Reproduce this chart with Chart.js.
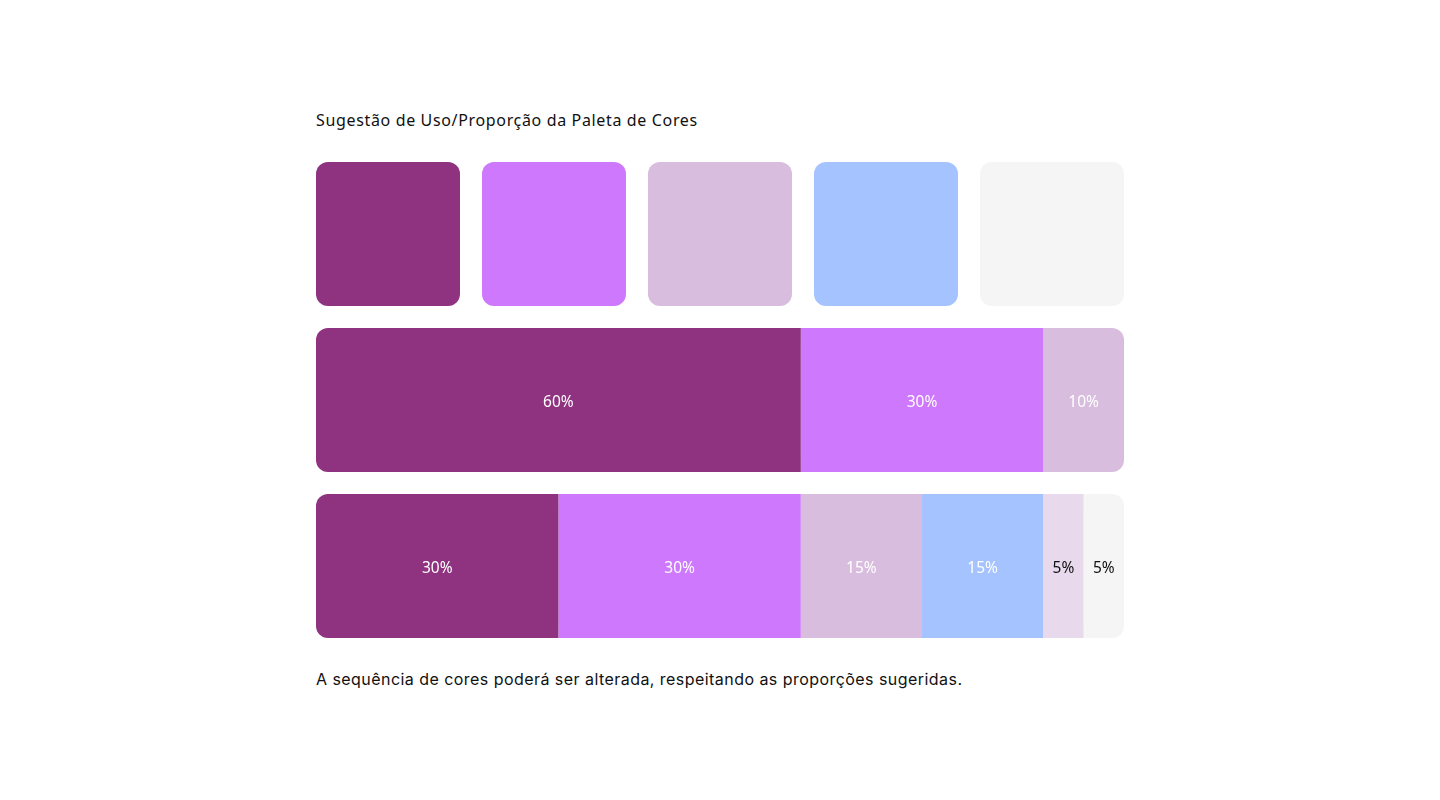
<!DOCTYPE html>
<html>
<head>
<meta charset="utf-8">
<script src="https://cdn.jsdelivr.net/npm/chart.js@4/dist/chart.umd.min.js"></script>
<style>
  html, body { margin: 0; padding: 0; background: #ffffff; }
  body { width: 1440px; height: 800px; position: relative; overflow: hidden; }
  .txt { position: absolute; left: 316px; color: #111; white-space: nowrap; }
  #title { top: 109px; font-family: "Noto Sans", sans-serif; font-size: 16px; letter-spacing: 0.65px; }
  #note { top: 669px; font-family: "Inter", sans-serif; font-size: 16px; letter-spacing: 0.45px; }
  #swatchWrap { position: absolute; left: 305px; top: 162px; width: 830px; height: 144px; }
  #propWrap { position: absolute; left: 316px; top: 317px; width: 808px; height: 332px; }
</style>
</head>
<body>
<div class="txt" id="title">Sugestão de Uso/Proporção da Paleta de Cores</div>
<div id="swatchWrap"><canvas id="swatchChart"></canvas></div>
<div id="propWrap"><canvas id="propChart"></canvas></div>
<div class="txt" id="note">A sequência de cores poderá ser alterada, respeitando as proporções sugeridas.</div>

<script>
// palette
const swatchNames = ['Roxo', 'Violeta', 'Lavanda', 'Azul', 'Cinza'];
const swatchColors = ['#8f3380', '#ce78fd', '#d8bdde', '#a5c3fe', '#f5f5f5'];

// proportion rows
const rows = ['Proporção 1', 'Proporção 2'];
const segmentColors = ['#8f3380', '#ce78fd', '#d8bdde', '#a5c3fe', '#e8daec', '#f5f5f5'];
const row1Values = [60, 30, 10, 0, 0, 0];
const row2Values = [30, 30, 15, 15, 5, 5];
const labelColors = ['#ffffff', '#ffffff', '#ffffff', '#ffffff', '#111111', '#111111'];

const RADIUS = 12;

new Chart(document.getElementById('swatchChart'), {
    type: 'bar',
    data: {
        labels: swatchNames,
        datasets: [{
            data: swatchNames.map(() => 1),
            backgroundColor: swatchColors,
            borderRadius: RADIUS,
            borderSkipped: false,
            categoryPercentage: 1,
            barPercentage: 144 / 166
        }]
    },
    options: {
        responsive: true,
        maintainAspectRatio: false,
        animation: false,
        layout: { padding: 0 },
        plugins: { legend: { display: false }, tooltip: { enabled: false } },
        scales: {
            x: { display: false },
            y: { display: false, min: 0, max: 1 }
        }
    }
});

// which segment is first / last in each row
function rowEnds(values) {
    let first = -1, last = -1;
    values.forEach((v, i) => {
        if (v > 0) {
            if (first < 0) first = i;
            last = i;
        }
    });
    return { first, last };
}
const rowData = [row1Values, row2Values];
const ends = rowData.map(rowEnds);

const segmentLabels = {
    id: 'segmentLabels',
    afterDatasetsDraw(chart) {
        const ctx = chart.ctx;
        ctx.save();
        ctx.font = '15.5px "Noto Sans", sans-serif';
        ctx.textAlign = 'center';
        ctx.textBaseline = 'middle';
        chart.data.datasets.forEach((ds, di) => {
            chart.getDatasetMeta(di).data.forEach((bar, ri) => {
                const v = ds.data[ri];
                if (!v) return;
                const cx = (bar.x + bar.base) / 2;
                ctx.fillStyle = labelColors[di];
                ctx.fillText(v + '%', cx, bar.y + 3);
            });
        });
        ctx.restore();
    }
};

new Chart(document.getElementById('propChart'), {
    type: 'bar',
    data: {
        labels: rows,
        datasets: segmentColors.map((c, di) => ({
            data: rowData.map(r => r[di]),
            backgroundColor: c,
            borderSkipped: false,
            categoryPercentage: 1,
            barPercentage: 144 / 166,
            borderRadius: (ctx) => {
                const e = ends[ctx.dataIndex];
                const left = di === e.first ? RADIUS : 0;
                const right = di === e.last ? RADIUS : 0;
                return { topLeft: left, bottomLeft: left, topRight: right, bottomRight: right };
            }
        }))
    },
    options: {
        indexAxis: 'y',
        responsive: true,
        maintainAspectRatio: false,
        animation: false,
        layout: { padding: 0 },
        plugins: { legend: { display: false }, tooltip: { enabled: false } },
        scales: {
            x: { display: false, stacked: true, min: 0, max: 100 },
            y: { display: false, stacked: true }
        }
    },
    plugins: [segmentLabels]
});
</script>
</body>
</html>
